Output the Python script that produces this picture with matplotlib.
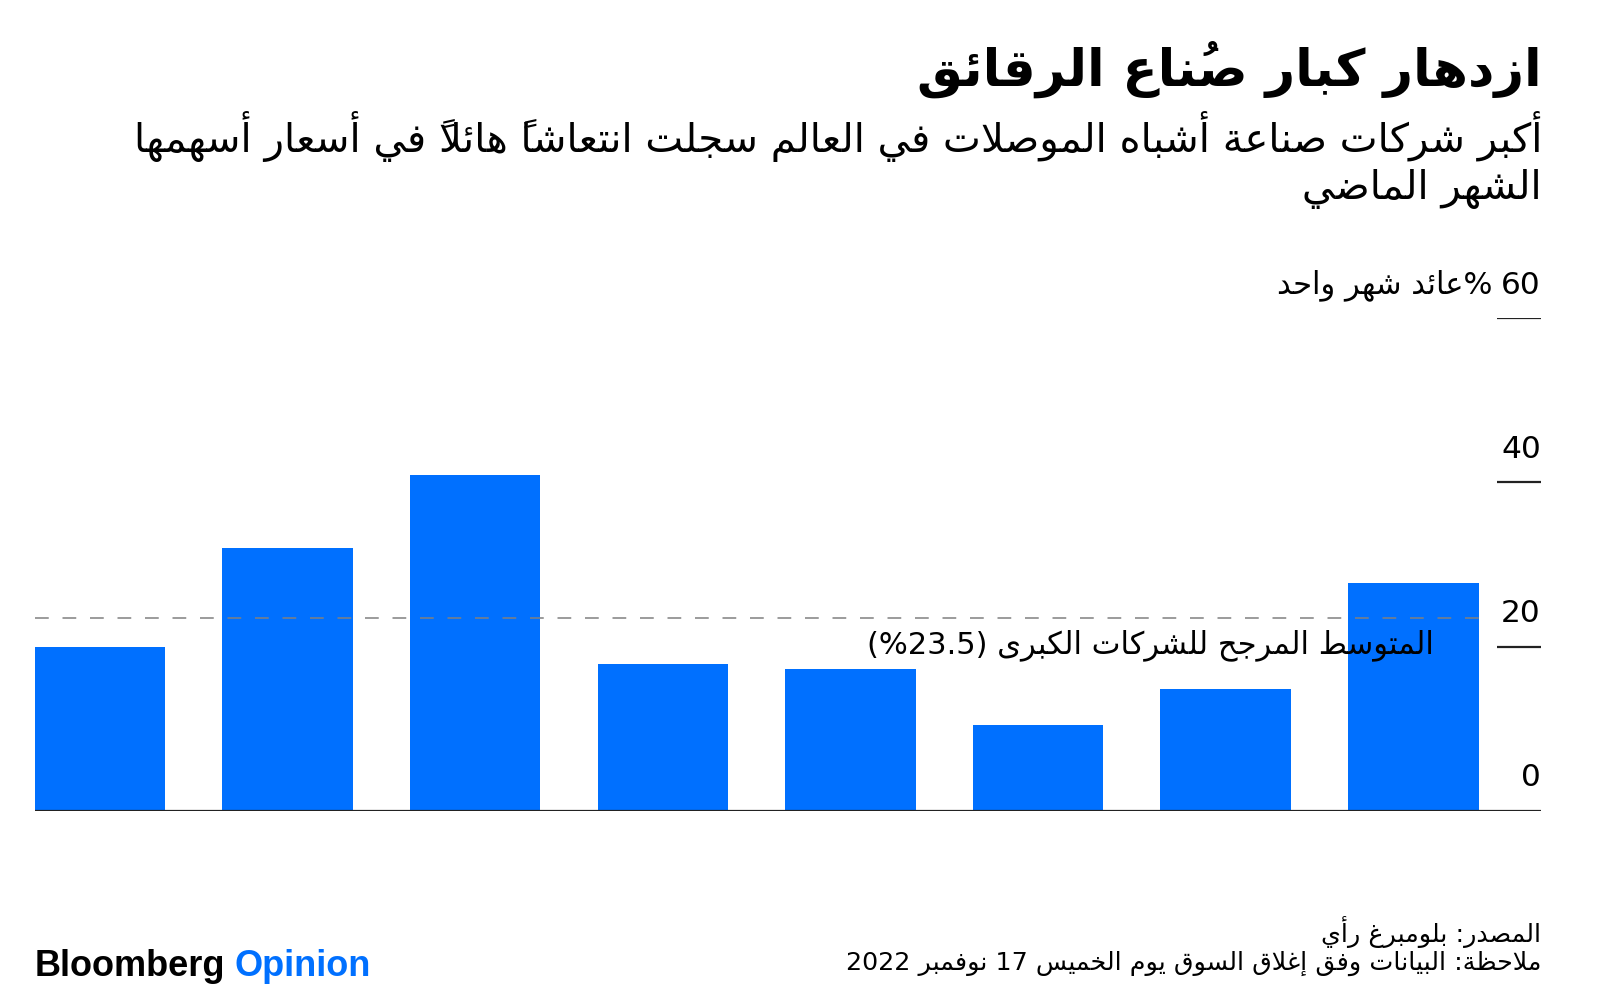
import matplotlib
matplotlib.use("Agg")
import matplotlib.pyplot as plt
import matplotlib.transforms as mtransforms

# --- data (one-month return, %), bars left to right as drawn ---
returns = [19.9, 32.0, 40.9, 17.9, 17.3, 10.4, 14.8, 27.8]
avg_return = 23.5
y_ticks = [0, 20, 40, 60]

title = "ازدهار كبار صُناع الرقائق"
subtitle_1 = "أكبر شركات صناعة أشباه الموصلات في العالم سجلت انتعاشاً هائلاً في أسعار أسهمها"
subtitle_2 = "الشهر الماضي"
unit_label = "%عائد شهر واحد"
avg_label = "المتوسط المرجح للشركات الكبرى (%23.5)"
source = "المصدر: بلومبرغ رأي"
note = "ملاحظة: البيانات وفق إغلاق السوق يوم الخميس 17 نوفمبر 2022"

BLUE = "#0070FF"

# --- tiny arabic shaping + right-to-left ordering (matplotlib draws LTR, unshaped) ---
DUAL = {'ئ': 0xFE89, 'ب': 0xFE8F, 'ت': 0xFE95, 'ث': 0xFE99, 'ج': 0xFE9D, 'ح': 0xFEA1,
        'خ': 0xFEA5, 'س': 0xFEB1, 'ش': 0xFEB5, 'ص': 0xFEB9, 'ض': 0xFEBD, 'ط': 0xFEC1,
        'ظ': 0xFEC5, 'ع': 0xFEC9, 'غ': 0xFECD, 'ف': 0xFED1, 'ق': 0xFED5, 'ك': 0xFED9,
        'ل': 0xFEDD, 'م': 0xFEE1, 'ن': 0xFEE5, 'ه': 0xFEE9, 'ي': 0xFEF1}
RIGHT = {'آ': 0xFE81, 'أ': 0xFE83, 'ؤ': 0xFE85, 'إ': 0xFE87, 'ا': 0xFE8D, 'ة': 0xFE93,
         'د': 0xFEA9, 'ذ': 0xFEAB, 'ر': 0xFEAD, 'ز': 0xFEAF, 'و': 0xFEED, 'ى': 0xFEEF}
LAMALEF = {'آ': 0xFEF5, 'أ': 0xFEF7, 'إ': 0xFEF9, 'ا': 0xFEFB}
MIRROR = {'(': ')', ')': '('}


def is_mark(c):
    return '\u064B' <= c <= '\u0652'


def jtype(c):
    if c in DUAL:
        return 'D'
    if c in RIGHT:
        return 'R'
    if is_mark(c):
        return 'T'
    return 'U'


def shape(s):
    n = len(s)
    out = []
    skip = set()
    for i, c in enumerate(s):
        if i in skip:
            continue
        t = jtype(c)
        if t in 'TU':
            out.append(c)
            continue
        p = i - 1
        while p >= 0 and jtype(s[p]) == 'T':
            p -= 1
        join_prev = p >= 0 and jtype(s[p]) == 'D' and (p + 1) not in skip
        q = i + 1
        while q < n and jtype(s[q]) == 'T':
            q += 1
        nxt = s[q] if q < n else None
        if c == 'ل' and nxt in LAMALEF:
            out.append(chr(LAMALEF[nxt] + (1 if join_prev else 0)))
            out.extend(s[i + 1:q])
            skip.add(q)
            continue
        join_next = t == 'D' and nxt is not None and jtype(nxt) in 'DR'
        base = DUAL[c] if t == 'D' else RIGHT[c]
        if join_prev and join_next:
            f = 3
        elif join_prev:
            f = 1
        elif join_next:
            f = 2
        else:
            f = 0
        out.append(chr(base + f))
    return ''.join(out)


def ar(s):
    sh = shape(s)
    runs = []
    for c in sh:
        ltr = c.isdigit() or c in '.%'
        if runs and runs[-1][0] == ltr:
            runs[-1][1].append(c)
        else:
            runs.append((ltr, [c]))
    out = []
    for ltr, chars in reversed(runs):
        if ltr:
            out.append(''.join(chars))
        else:
            # marks end up in front of their letter, dejavu draws them to the right
            out.append(''.join(MIRROR.get(c, c) for c in reversed(chars)))
    return ''.join(out)


W, H = 1600, 1001


def fx(x):
    return x / W


def fy(y):
    return 1 - y / H


fig = plt.figure(figsize=(16, 10.01), dpi=100)
fig.patch.set_facecolor("white")

AR = "DejaVu Sans"

# --- header ---
fig.text(fx(1542), fy(69), ar(title), ha="right", va="center",
         family=AR, weight="bold", fontsize=37, color="black")
fig.text(fx(1542), fy(136), ar(subtitle_1), ha="right", va="center",
         family=AR, fontsize=29, color="black")
fig.text(fx(1542), fy(189), ar(subtitle_2), ha="right", va="center",
         family=AR, fontsize=29, color="black")

# --- chart ---
left_px, right_px, base_px = 34.7, 1541, 810.5
px_per_unit = 8.2
ax = fig.add_axes([fx(left_px), 1 - base_px / H, (right_px - left_px) / W,
                   60 * px_per_unit / H])
ax.set_xlim(-0.348, 7.681)
ax.set_ylim(0, 60)
ax.axis("off")

xs = list(range(len(returns)))
ax.bar(xs, returns, width=0.696, color=BLUE, zorder=2)

ax.hlines(avg_return, -0.348, len(returns) - 1 + 0.348, colors="#808080",
          linewidth=1.1, linestyles=(0, (9, 9)), zorder=3)

ytrans = ax.get_yaxis_transform()
ax.hlines(0, 0, 1, transform=ytrans, colors="#222222", linewidth=1.6, zorder=4)
tick_x0 = (1497 - left_px) / (right_px - left_px)
ax.hlines(y_ticks[1:], tick_x0, 1, transform=ytrans, colors="#222222",
          linewidth=1.6, zorder=4)

label_trans = mtransforms.offset_copy(ytrans, fig=fig, x=0, y=33, units="dots")
for v in y_ticks:
    ax.text(1.0, v, str(v), transform=label_trans, ha="right", va="center",
            family=AR, fontsize=22.5, color="black")
unit_x = (1492 - left_px) / (right_px - left_px)
ax.text(unit_x, y_ticks[-1], ar(unit_label), transform=label_trans, ha="right",
        va="center", family=AR, fontsize=22, color="black")

avg_x = (1434 - left_px) / (right_px - left_px)
ax.text(avg_x, (base_px - 645) / px_per_unit, ar(avg_label), transform=ytrans,
        ha="right", va="center", family=AR, fontsize=22, color="black", zorder=5)

# --- footer ---
fig.text(fx(1541), fy(932), ar(source), ha="right", va="center",
         family=AR, fontsize=18.3, color="black")
fig.text(fx(1541), fy(963), ar(note), ha="right", va="center",
         family=AR, fontsize=18.3, color="black")

fig.text(fx(35), fy(966), "Bloomberg", ha="left", va="center",
         family="Liberation Sans", weight="bold", fontsize=26, color="black")
fig.text(fx(235), fy(966), "Opinion", ha="left", va="center",
         family="Liberation Sans", weight="bold", fontsize=26, color=BLUE)

fig.savefig("out.png", dpi=100, facecolor="white")
